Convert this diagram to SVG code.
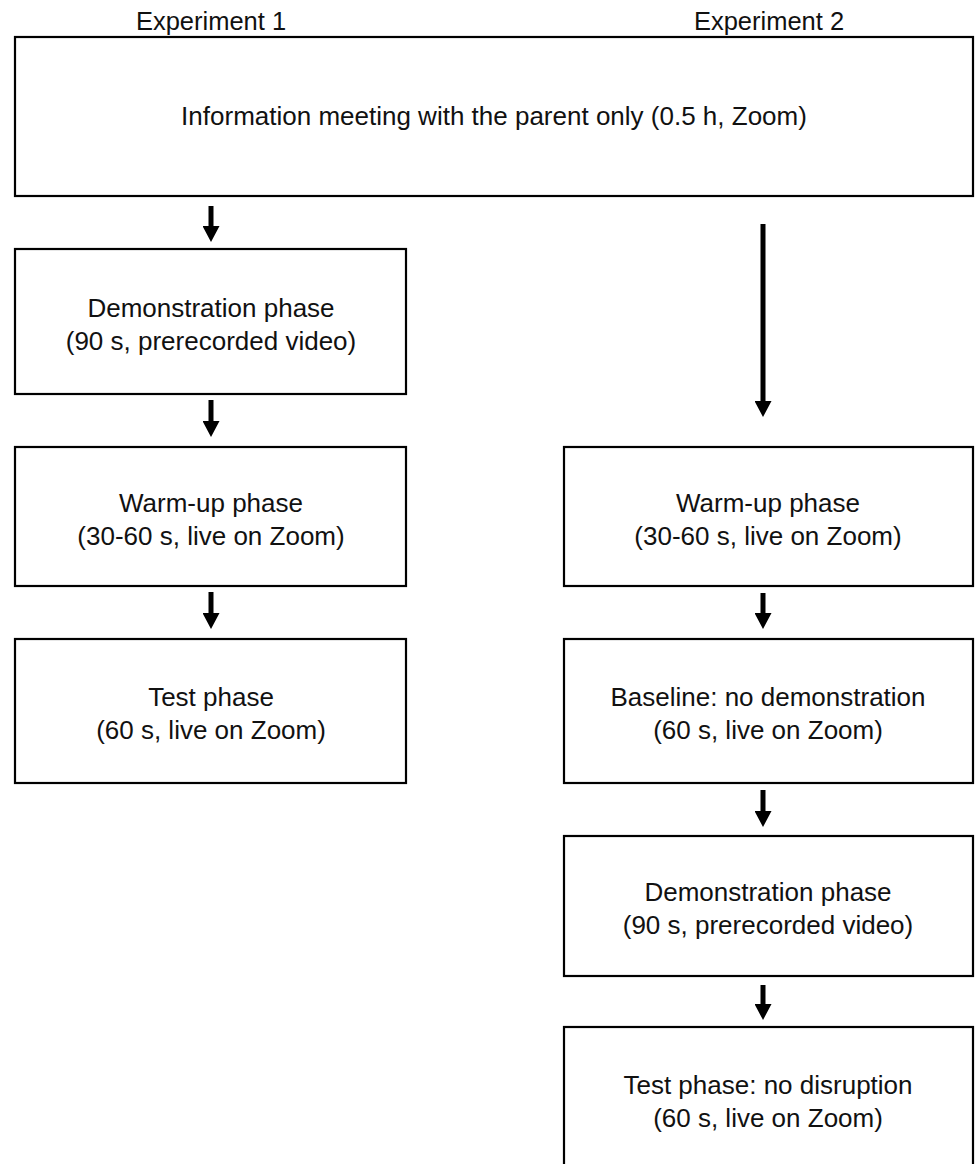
<svg xmlns="http://www.w3.org/2000/svg" width="975" height="1164" viewBox="0 0 975 1164">
<style>
.box{fill:#fff;stroke:#000;stroke-width:2.2}
.t{font-family:"Liberation Sans",Arial,sans-serif;font-size:26px;fill:#111;text-anchor:middle}
.h{font-family:"Liberation Sans",Arial,sans-serif;font-size:25.5px;fill:#111;text-anchor:middle}
.arr{stroke:#000;stroke-width:5;fill:none;marker-end:url(#ah)}
</style>
<defs>
<marker id="ah" markerUnits="userSpaceOnUse" markerWidth="16" markerHeight="17" refX="0" refY="8.5" orient="auto" viewBox="0 0 16 17">
<path d="M0,0 L16,8.5 L0,17 z" fill="#000"/>
</marker>
</defs>
<rect width="975" height="1164" fill="#fff"/>
<text class="h" x="211" y="30">Experiment 1</text>
<text class="h" x="769" y="30">Experiment 2</text>
<g id="info"><rect class="box" x="15" y="37" width="958" height="159"/><text class="t" x="494" y="125">Information meeting with the parent only (0.5 h, Zoom)</text></g>
<g id="e1-demo"><rect class="box" x="15" y="249" width="391" height="145"/><text class="t" x="211" y="317">Demonstration phase</text><text class="t" x="211" y="350">(90 s, prerecorded video)</text></g>
<g id="e1-warm"><rect class="box" x="15" y="447" width="391" height="139"/><text class="t" x="211" y="512">Warm-up phase</text><text class="t" x="211" y="545">(30-60 s, live on Zoom)</text></g>
<g id="e1-test"><rect class="box" x="15" y="639" width="391" height="144"/><text class="t" x="211" y="706">Test phase</text><text class="t" x="211" y="739">(60 s, live on Zoom)</text></g>
<g id="e2-warm"><rect class="box" x="564" y="447" width="409" height="139"/><text class="t" x="768" y="512">Warm-up phase</text><text class="t" x="768" y="545">(30-60 s, live on Zoom)</text></g>
<g id="e2-base"><rect class="box" x="564" y="639" width="409" height="144"/><text class="t" x="768" y="706">Baseline: no demonstration</text><text class="t" x="768" y="739">(60 s, live on Zoom)</text></g>
<g id="e2-demo"><rect class="box" x="564" y="836" width="409" height="140"/><text class="t" x="768" y="901">Demonstration phase</text><text class="t" x="768" y="934">(90 s, prerecorded video)</text></g>
<g id="e2-test"><rect class="box" x="564" y="1027" width="409" height="160"/><text class="t" x="768" y="1094">Test phase: no disruption</text><text class="t" x="768" y="1127">(60 s, live on Zoom)</text></g>
<g id="connectors">
<line class="arr" x1="211" y1="206" x2="211" y2="226"/>
<line class="arr" x1="211" y1="400" x2="211" y2="421"/>
<line class="arr" x1="211" y1="592" x2="211" y2="613"/>
<line class="arr" x1="763" y1="224" x2="763" y2="401"/>
<line class="arr" x1="763" y1="593" x2="763" y2="613"/>
<line class="arr" x1="763" y1="790" x2="763" y2="811"/>
<line class="arr" x1="763" y1="985" x2="763" y2="1004"/>
</g>
</svg>
